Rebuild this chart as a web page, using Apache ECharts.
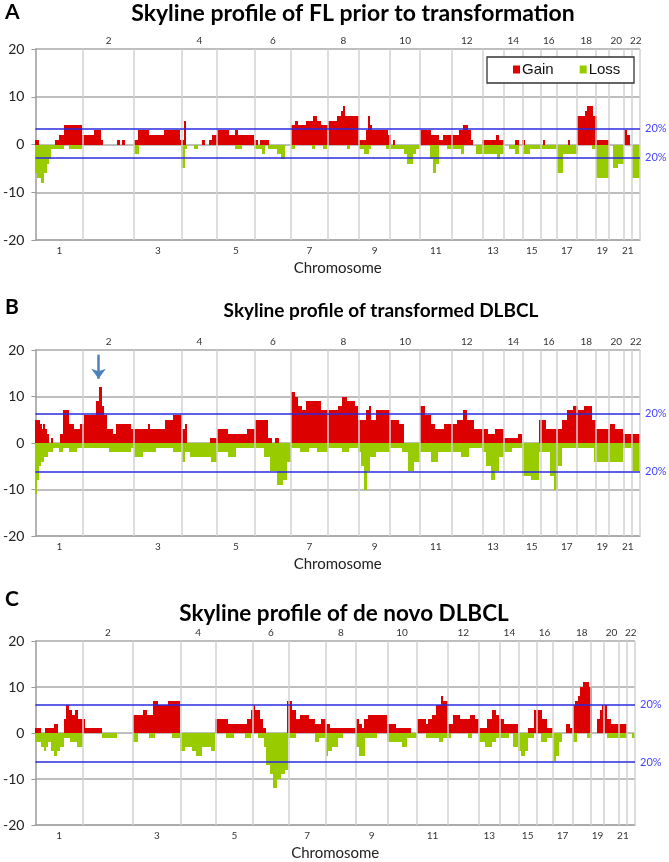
<!DOCTYPE html>
<html><head><meta charset="utf-8">
<script src="https://cdn.jsdelivr.net/npm/echarts@6/dist/echarts.min.js"></script>
<style>html,body{margin:0;padding:0;background:#fff}#c{width:669px;height:862px}</style>
</head><body><div id="c"></div>
<script>
// ---- DATA ----
const chromNames = ['1','2','3','4','5','6','7','8','9','10','11','12','13','14','15','16','17','18','19','20','21','22'];
const chromSizes = [48,51,48,35.5,38,36,37.5,31,31.5,30,31.5,31,21.5,19.5,17.5,16.5,20,19,13,15.5,7.5,8.5];
const yTicks = [-20,-10,0,10,20];
const panelTitles = ['Skyline profile of FL prior to transformation','Skyline profile of transformed DLBCL','Skyline profile of de novo DLBCL'];
const panelLetters = ['A','B','C'];
const thresholdLabel = '20%';
// thresholds (count of samples corresponding to 20%)
const thrA = [3.3, -2.7];
const thrB = [6.3, -6.2];
const thrC = [6.1, -6.3];
// skyline steps: [start position, count]
const gainA = [[0,1],[4,0],[20,1],[23.3,2],[29,4],[46.6,2],[59,3],[65.6,1],[68,0],[82.3,1],[84.6,0],[87.3,1],[89.6,0],[99,1],[103.3,3],[114,2],[129,3],[145.6,1],[149,5],[151.3,0],[167.3,1],[170.6,0],[174,1],[177.3,2],[182.6,3],[194,2],[200.6,3],[203.3,2],[220,1],[224,0],[225.3,1],[234.6,0],[256.6,4],[260.6,5],[264,4],[272.3,5],[279,6],[283.3,5],[287.3,4],[294,5],[303.3,6],[306.6,7],[309,8],[310.6,6],[325,1],[332.3,3],[334.6,6],[336.6,4],[338,3],[354.6,2],[357.3,0],[359,1],[361.3,0],[386.6,3],[397.3,2],[405.6,1],[410,2],[425.6,3],[430,4],[434.6,3],[437.3,1],[440,0],[449,1],[462.3,2],[465.6,1],[470.6,0],[482.3,1],[485.6,0],[489,1],[492.3,0],[509.6,1],[512.3,0],[535.6,1],[537.3,0],[544,6],[552.3,7],[554.6,8],[560.6,6],[564,1],[576,0],[591.3,3],[594,2],[597.3,0]];
const lossA = [[0,-6],[1.6,-7],[5.6,-8],[9,-6],[11.3,-4],[13.3,-3],[15.6,-1],[29,0],[34,-1],[46.6,0],[99,-2],[104,0],[146.3,-5],[150,-1],[152.3,0],[159,-1],[163,0],[200.6,-1],[207.3,0],[220,-1],[227.3,-2],[230.6,0],[234,-1],[242.3,-2],[246.6,-3],[250.6,0],[256.6,-1],[260.6,0],[278.3,-1],[280.6,0],[289,-1],[293.3,0],[313.3,-1],[315.6,0],[325.6,-1],[330.6,-2],[335.6,-1],[337.3,0],[352.3,-1],[370.6,-2],[373.3,-4],[379,-2],[382.3,-1],[386.6,0],[396.6,-3],[399,-6],[402.3,-4],[405.6,0],[413.3,-1],[427.3,-2],[430.6,0],[442.3,-2],[464,-3],[467.3,-2],[470.6,0],[476.3,-1],[482.3,-2],[485.6,0],[490,-2],[496.6,-1],[524,-6],[530.6,-2],[545.6,0],[559,-1],[563,-7],[576,0],[580,-5],[585.6,-4],[591.3,0],[599,-7]];
const gainB = [[0,5],[4.6,4],[6.6,3],[8,4],[10,3],[11.6,2],[14,0],[15.6,1],[18,0],[24.6,2],[27.3,7],[34,4],[38.3,3],[44.7,4],[48.9,6],[60.8,9],[63.4,12],[66.8,8],[69.3,6],[72.3,3],[77.8,2],[80.8,4],[95.7,3],[112.7,4],[115.3,3],[129.7,5],[138.3,6],[146.8,3],[150.2,4],[151.9,0],[175.3,1],[182.9,3],[193.6,2],[212.7,3],[220.8,5],[234,1],[238.2,0],[240.4,1],[244.6,0],[256.9,11],[260.8,10],[263.7,8],[268,7],[272.3,9],[287.1,7],[304.2,8],[308.4,10],[312.7,9],[321.2,8],[324.6,5],[331.8,7],[334.8,8],[337.3,5],[342.4,7],[356,5],[365.8,4],[370.1,0],[386.3,8],[391.4,6],[397.7,4],[402,3],[410.5,4],[423.3,5],[429.7,7],[433.9,5],[440.3,3],[455.2,2],[461.6,3],[471.3,1],[485,2],[489.2,0],[506.2,5],[512.6,3],[529.6,5],[533.9,7],[540.3,8],[545.4,7],[550.9,8],[559.4,5],[563.7,3],[577.3,4],[582.8,3],[590.5,2]];
const lossB = [[0,-11],[1.6,-8],[3.3,-5],[5.6,-4],[9,-3],[12.3,-2],[17.3,-1],[24,-2],[27.3,-1],[34,-2],[42,-1],[74.4,-2],[95.7,-1],[99.1,-3],[108.5,-2],[121.2,-1],[138.3,-2],[146.8,-4],[150.2,-2],[155.3,-3],[176.5,-4],[182.9,-2],[193.6,-3],[202,-1],[229.7,-3],[236.1,-6],[242.5,-9],[248.9,-8],[253.1,-4],[256.9,-1],[265.9,-2],[274.4,-1],[282.9,-2],[294.4,-1],[308.4,-2],[314.8,-1],[324.6,-2],[327.6,-5],[330.5,-10],[333.1,-6],[336.1,-3],[342.4,-2],[356,-1],[368,-2],[374.4,-6],[379.9,-4],[386.3,-2],[397.7,-4],[404.1,-2],[427.5,-3],[436,-1],[448.8,-2],[453,-5],[457.3,-8],[461.6,-6],[465.8,-3],[471.3,-2],[478.6,-1],[489.2,-7],[497.7,-8],[506.2,-2],[516.8,-7],[521.1,-10],[525.4,-5],[529.6,-1],[561.4,-4],[590.5,-1],[599,-6]];
const gainC = [[0,1],[5.2,0],[9.5,1],[19,2],[22.4,0],[28.9,3],[31,6],[34.1,5],[37.5,4],[39.7,5],[43.1,3],[50.5,1],[67.7,0],[99.2,4],[108.7,5],[113,4],[119.4,7],[123.8,6],[134.5,7],[146.6,0],[182,3],[194.9,2],[214.3,3],[218.6,5],[220.8,6],[222.9,5],[227.2,3],[230.3,1],[233.7,0],[254.4,7],[259.5,5],[263.8,3],[268.2,4],[276.8,3],[283.3,2],[289.8,3],[294.1,2],[298.4,1],[324.3,3],[327.7,2],[330.7,1],[332.9,3],[337.2,4],[356.6,2],[365.2,1],[380.3,0],[386.8,3],[395.4,2],[397.6,3],[401.9,4],[406.2,6],[410.5,8],[412.7,7],[418.3,2],[423.4,4],[429.9,3],[440.7,4],[445,3],[449.3,1],[457.9,3],[462.2,5],[466.6,4],[470,3],[475.2,2],[489,0],[498.9,1],[505.4,5],[513.1,3],[518.3,1],[524,0],[537.7,2],[542.1,1],[544.2,6],[546.3,7],[549.4,8],[551.9,10],[555,11],[560.6,10],[564,0],[569.2,3],[572.2,5],[574.4,6],[578.7,3],[583,2],[599,0]];
const lossC = [[0,-2],[5.2,-3],[8.2,-4],[10.8,-3],[12.9,-2],[16,-4],[19,-5],[21.6,-4],[24.6,-3],[28.9,-1],[35.4,-2],[41.8,-3],[48.3,0],[67.7,-1],[82.8,0],[99.2,-2],[103.5,0],[115.1,-1],[121.6,0],[138.8,-1],[146.6,-4],[151.8,-3],[158.3,-4],[162.6,-5],[169,-3],[177.7,-4],[182,0],[192.7,-1],[201.4,0],[212.2,-1],[218.6,0],[225.1,-1],[231.6,-3],[233.7,-7],[237.2,-9],[240.2,-12],[244.5,-10],[248.8,-9],[253.1,-8],[256.1,-1],[263.8,0],[283.3,-2],[287.6,-1],[294.1,-5],[296.2,-4],[300.5,-3],[307,-1],[311.3,0],[324.3,-3],[327.7,-5],[333.8,-1],[345.8,0],[356.6,-2],[371.7,-3],[376,-1],[386.8,0],[395.4,-1],[408.4,-2],[412.7,-1],[421.3,0],[438.5,-1],[442.8,0],[449.3,-2],[455.8,-3],[462.2,-2],[466.6,-1],[479.5,0],[483.8,-3],[489,-4],[492.4,-5],[495.8,-4],[498.9,-1],[505.4,0],[511.9,-2],[518.3,-1],[524,-6],[527,-5],[530.5,-2],[533.4,0],[544.2,-2],[548.5,0],[559.3,-1],[564,0],[578.7,-1],[599,0],[604.6,-1]];
// arrow annotation on panel B (chr 2 peak): [position, from count, to count]
const arrowB = [63.4, 19, 13.8];

// ---- BUILD ----
const starts = []; let acc = 0;
chromSizes.forEach(s => { starts.push(acc); acc += s; });
const total = acc;
const centers = chromSizes.map((s, i) => starts[i] + s / 2);
const boundaries = starts.slice(1).concat([total]);
const oddCenters = centers.filter((c, i) => i % 2 === 0);
const evenCenters = centers.filter((c, i) => i % 2 === 1);
function nameAt(v) {
  let best = 0, bd = 1e9;
  centers.forEach((c, i) => { const d = Math.abs(c - v); if (d < bd) { bd = d; best = i; } });
  return chromNames[best];
}
// convert step list into segments [start, end, count]
function segs(arr) {
  const out = [];
  arr.forEach((p, k) => {
    const end = k + 1 < arr.length ? arr[k + 1][0] : total;
    if (p[1] !== 0) out.push([p[0], end, p[1]]);
  });
  return out;
}
function renderStep(color) {
  return function (params, api) {
    const s = api.value(0), e = api.value(1), v = api.value(2);
    const p0 = api.coord([s, 0]);
    const p1 = api.coord([e, v]);
    const x0 = Math.round(p0[0]), x1 = Math.max(Math.round(p1[0]), x0 + 1);
    const y0 = Math.round(Math.min(p0[1], p1[1])), y1 = Math.round(Math.max(p0[1], p1[1]));
    return {
      type: 'rect',
      shape: { x: x0, y: y0, width: x1 - x0, height: y1 - y0 },
      style: { fill: color }
    };
  };
}

const panels = [
  { gain: gainA, loss: lossA, thr: thrA, grid: { left: 33, top: 49, width: 607, height: 191 }, titleX: 353, titleY: 14, letterY: 14, titleSize: 23 },
  { gain: gainB, loss: lossB, thr: thrB, grid: { left: 33, top: 350, width: 607, height: 186 }, titleX: 381, titleY: 311, letterY: 309, titleSize: 19 },
  { gain: gainC, loss: lossC, thr: thrC, grid: { left: 33, top: 641, width: 602, height: 191 }, titleX: 344, titleY: 614, letterY: 601, titleSize: 22.5 }
];
const RED = '#dd0000', GREEN = '#99cc00', BLUE = '#2a2ae0';
const grids = [], xAxes = [], yAxes = [], series = [], graphics = [];
panels.forEach((p, i) => {
  grids.push(Object.assign({ containLabel: false }, p.grid));
  xAxes.push({
    gridIndex: i, type: 'value', min: 0, max: total, position: 'bottom',
    axisLine: { show: true, onZero: false, lineStyle: { color: '#a6a6a6', width: 1.5 } },
    axisTick: { show: false }, splitLine: { show: false },
    axisLabel: { customValues: oddCenters, formatter: v => nameAt(v), fontSize: 10, color: '#333', margin: 6, fontFamily: 'Lato' },
    name: 'Chromosome', nameLocation: 'middle', nameGap: 21,
    nameTextStyle: { fontSize: 15, color: '#222', fontFamily: 'Lato' }
  });
  xAxes.push({
    gridIndex: i, type: 'value', min: 0, max: total, position: 'top',
    axisLine: { show: false }, axisTick: { show: false }, splitLine: { show: false },
    axisLabel: { customValues: evenCenters, formatter: v => nameAt(v), fontSize: 10, color: '#333', margin: 3, fontFamily: 'Lato' }
  });
  yAxes.push({
    gridIndex: i, type: 'value', min: yTicks[0], max: yTicks[yTicks.length - 1], interval: 10,
    axisLine: { show: true, lineStyle: { color: '#9a9a9a', width: 1.5 } },
    axisTick: { show: true, length: 4, lineStyle: { color: '#9a9a9a' } },
    axisLabel: { fontSize: 14, color: '#222', margin: 11, fontFamily: 'Lato' },
    splitLine: { lineStyle: { color: '#a8a8a8', width: 1.5 } }
  });
  // chromosome boundaries
  series.push({
    type: 'line', xAxisIndex: i * 2, yAxisIndex: i, data: [], z: 1, silent: true,
    markLine: { silent: true, symbol: ['none', 'none'], label: { show: false },
      lineStyle: { color: '#d2d2d2', width: 1.5, type: 'solid' },
      data: boundaries.map(b => ({ xAxis: b })) }
  });
  series.push({
    name: 'Gain', type: 'custom', xAxisIndex: i * 2, yAxisIndex: i, z: 2,
    data: segs(p.gain), encode: { x: [0, 1], y: 2 }, itemStyle: { color: RED },
    renderItem: renderStep(RED), clip: true
  });
  series.push({
    name: 'Loss', type: 'custom', xAxisIndex: i * 2, yAxisIndex: i, z: 2,
    data: segs(p.loss), encode: { x: [0, 1], y: 2 }, itemStyle: { color: GREEN },
    renderItem: renderStep(GREEN), clip: true
  });
  series.push({
    type: 'line', xAxisIndex: i * 2, yAxisIndex: i, data: [], z: 3, silent: true,
    markLine: { silent: true, symbol: ['none', 'none'],
      label: { show: true, position: 'end', formatter: thresholdLabel, color: '#4646ff', fontSize: 11, distance: 5, fontFamily: 'Lato' },
      lineStyle: { color: BLUE, width: 1.5, type: 'solid' }, data: p.thr.map(t => ({ yAxis: t })) }
  });
  if (i === 1) {
    series.push({
      type: 'line', xAxisIndex: 2, yAxisIndex: 1, data: [], z: 4, silent: true,
      markLine: { silent: true, symbol: ['none', 'arrow'], symbolSize: [11, 10], label: { show: false },
        lineStyle: { color: '#4f81bd', width: 2.5, type: 'solid' },
        data: [[{ coord: [arrowB[0], arrowB[1]] }, { coord: [arrowB[0], arrowB[2]] }]] }
    });
  }
  graphics.push({ type: 'text', left: 5, top: p.letterY - 12, style: { text: panelLetters[i], font: 'bold 21px Lato', fill: '#000' } });
  graphics.push({ type: 'text', x: p.titleX, y: p.titleY, style: { text: panelTitles[i], font: 'bold ' + p.titleSize + 'px Lato', fill: '#000', textAlign: 'center', textVerticalAlign: 'middle' } });
});
graphics.push({ type: 'rect', shape: { x: 487, y: 57, width: 147, height: 26 }, style: { fill: '#fff', stroke: '#333', lineWidth: 1.3 }, z: 10 });

const option = {
  animation: false,
  backgroundColor: '#fff',
  grid: grids, xAxis: xAxes, yAxis: yAxes, series: series,
  graphic: graphics,
  legend: {
    data: ['Gain', 'Loss'], left: 508, top: 57, itemWidth: 7, itemHeight: 8, itemGap: 26, icon: 'rect',
    textStyle: { fontSize: 15, color: '#111', fontFamily: 'Liberation Sans', padding: [0, 0, 0, -3] }, z: 11
  }
};
const chart = echarts.init(document.getElementById('c'), null, { renderer: 'canvas' });
chart.setOption(option);
</script></body></html>
